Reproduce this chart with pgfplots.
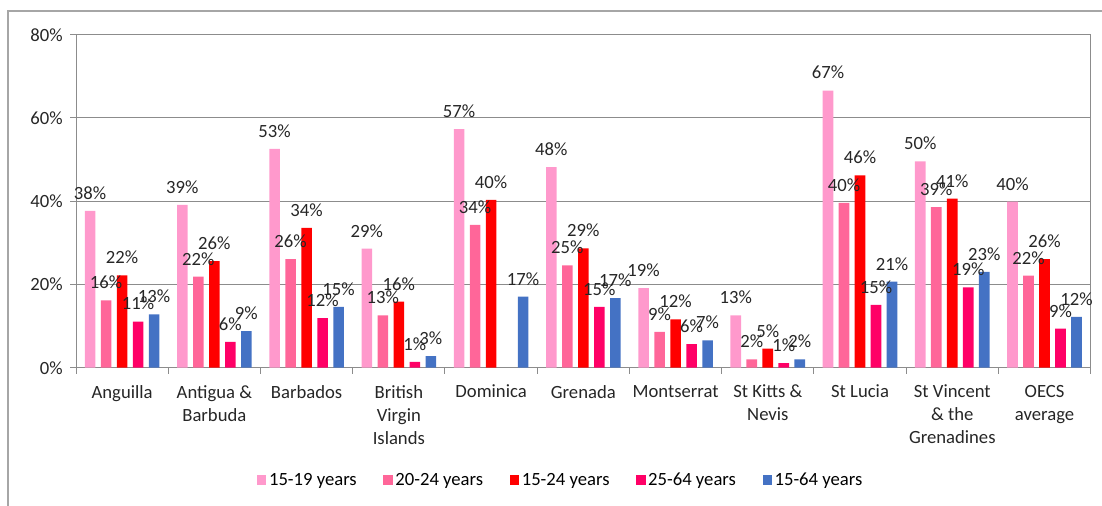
\documentclass[border=0pt]{standalone}
\usepackage{pgfplots}
\pgfplotsset{compat=1.18}
\usepackage{fontspec}
\setmainfont{Carlito}
\definecolor{cA}{HTML}{FF99CC}
\definecolor{cB}{HTML}{FF6699}
\definecolor{cC}{HTML}{FF0000}
\definecolor{cD}{HTML}{FF0066}
\definecolor{cE}{HTML}{4472C4}
\definecolor{frame}{HTML}{A6A6A6}
\definecolor{gridc}{HTML}{8C8C8C}
\begin{document}
\begin{tikzpicture}
\useasboundingbox (0,0) rectangle (826.5pt,379.5pt);
\draw[line width=1pt, color=frame] (6pt,0) -- (6pt,371.25pt) -- (826.5pt,371.25pt);
\begin{axis}[
  at={(57pt,103.7pt)}, anchor=south west, scale only axis,
  width=761pt, height=249.75pt,
  ybar=4pt, bar width=8pt,
  xmin=-0.5, xmax=10.5, ymin=0, ymax=80,
  xtick={0,...,10},
  xticklabels={Anguilla,{Antigua \&\\Barbuda},Barbados,{British\\Virgin\\Islands},Dominica,Grenada,Montserrat,{St Kitts \&\\Nevis},St Lucia,{St Vincent\\\& the\\Grenadines},{OECS\\average}},
  major x tick style={draw=none},
  minor xtick={-0.5,0.5,...,10.5},
  xtick pos=bottom, ytick pos=left,
  ytick={0,20,...,80},
  yticklabel={\pgfmathprintnumber[assume math mode=true]{\tick}\%},
  ymajorgrids, grid style={gridc, line width=0.75pt},
  axis line style={gridc, line width=0.75pt},
  tick style={gridc, line width=0.75pt},
  tick align=outside, major tick length=4.5pt, minor tick length=4.5pt,
  xticklabel style={align=center, font=\fontsize{14}{17.25}\selectfont, anchor=north, yshift=-5pt, text=black!85},
  yticklabel style={font=\fontsize{14}{17}\selectfont, text=black!85, xshift=-2pt},
  nodes near coords={\pgfmathprintnumber[fixed,precision=0,assume math mode=true]{\pgfplotspointmeta}\%},
  every node near coord/.append style={font=\fontsize{14}{17}\selectfont, yshift=5pt, text=black!85},
  legend image code/.code={\fill[#1] (0pt,-3.5pt) rectangle (7pt,3.5pt);},
  legend style={draw=none, font=\fontsize{14}{17}\selectfont, legend columns=5,
    at={(0.478,-0.337)}, anchor=center,
    /tikz/every even column/.append style={column sep=18pt}},
]
\addplot[fill=cA, draw=none] coordinates {(0,37.7) (1,39.1) (2,52.6) (3,28.6) (4,57.3) (5,48.2) (6,19.1) (7,12.6) (8,66.6) (9,49.6) (10,39.9)};
\addlegendentry{15-19 years}
\addplot[fill=cB, draw=none] coordinates {(0,16.2) (1,21.9) (2,26.1) (3,12.6) (4,34.3) (5,24.6) (6,8.6) (7,2.0) (8,39.6) (9,38.6) (10,22.1)};
\addlegendentry{20-24 years}
\addplot[fill=cC, draw=none] coordinates {(0,22.2) (1,25.6) (2,33.6) (3,15.9) (4,40.3) (5,28.7) (6,11.6) (7,4.6) (8,46.2) (9,40.6) (10,26.1)};
\addlegendentry{15-24 years}
\addplot[fill=cD, draw=none] coordinates {(0,11.1) (1,6.2) (2,11.9) (3,1.4) (5,14.6) (6,5.7) (7,1.1) (8,15.1) (9,19.3) (10,9.4)};
\addlegendentry{25-64 years}
\addplot[fill=cE, draw=none] coordinates {(0,12.8) (1,8.8) (2,14.6) (3,2.8) (4,17.1) (5,16.7) (6,6.6) (7,2.0) (8,20.7) (9,23.0) (10,12.2)};
\addlegendentry{15-64 years}
\end{axis}
\end{tikzpicture}
\end{document}
